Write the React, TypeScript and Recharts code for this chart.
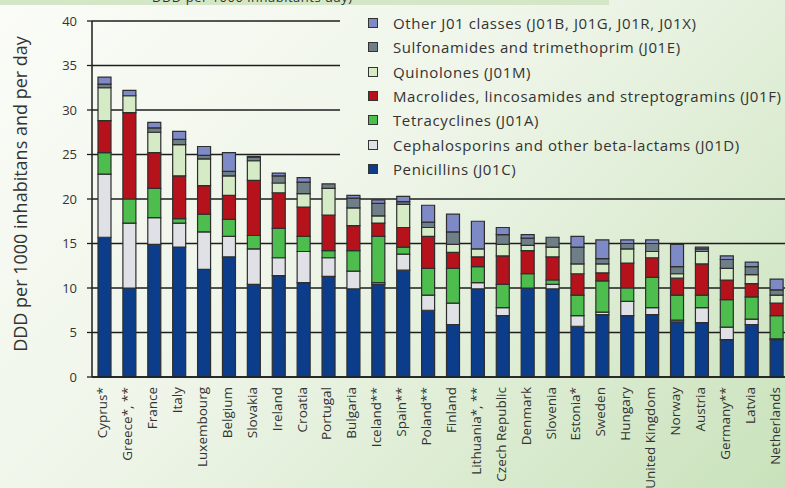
import React from 'react';
import { BarChart, Bar, XAxis, YAxis, CartesianGrid, Legend } from 'recharts';

const countries = [
  'Cyprus*', 'Greece*, **', 'France', 'Italy', 'Luxembourg', 'Belgium', 'Slovakia', 'Ireland',
  'Croatia', 'Portugal', 'Bulgaria', 'Iceland**', 'Spain**', 'Poland**', 'Finland', 'Lithuania*, **',
  'Czech Republic', 'Denmark', 'Slovenia', 'Estonia*', 'Sweden', 'Hungary', 'United Kingdom',
  'Norway', 'Austria', 'Germany**', 'Latvia', 'Netherlands',
];

const penicillins = [15.7, 10.0, 14.9, 14.6, 12.1, 13.5, 10.4, 11.4, 10.6, 11.3, 9.9, 10.4, 12.0, 7.5, 5.9, 9.9, 6.9, 10.0, 9.9, 5.7, 7.0, 6.9, 7.0, 6.2, 6.1, 4.2, 5.9, 4.2];
const cephalosporins = [7.1, 7.3, 3.0, 2.7, 4.2, 2.3, 4.0, 2.0, 3.5, 2.1, 2.0, 0.2, 1.8, 1.7, 2.4, 0.7, 0.9, 0, 0.5, 1.2, 0.3, 1.6, 0.8, 0.2, 1.7, 1.4, 0.6, 0.1];
const tetracyclines = [2.4, 2.7, 3.3, 0.5, 2.0, 1.9, 1.5, 3.3, 1.7, 0.8, 2.3, 5.2, 0.8, 3.0, 3.9, 1.8, 2.6, 1.6, 0.5, 2.3, 3.5, 1.5, 3.4, 2.8, 1.4, 3.1, 2.5, 2.6];
const macrolides = [3.6, 9.7, 4.0, 4.8, 3.2, 2.7, 6.2, 4.0, 3.3, 4.0, 2.8, 1.5, 2.2, 3.6, 1.8, 1.1, 3.2, 2.6, 2.6, 2.4, 0.9, 2.8, 2.2, 1.9, 3.5, 2.2, 1.5, 1.4];
const quinolones = [3.7, 1.9, 2.3, 3.5, 3.0, 2.2, 2.2, 1.1, 1.5, 3.0, 2.0, 0.8, 2.6, 1.0, 0.9, 0.9, 1.3, 0.6, 1.1, 1.1, 1.0, 1.6, 0.7, 0.5, 1.4, 1.3, 1.0, 0.9];
const sulfonamides = [0.4, 0, 0.5, 0.6, 0.4, 0.5, 0.4, 0.8, 1.3, 0.5, 1.1, 1.4, 0.3, 0.6, 1.4, 0, 1.1, 0.8, 1.1, 1.9, 0.6, 0.6, 0.9, 0.8, 0.3, 1.0, 0.9, 0.6];
const otherClasses = [0.8, 0.6, 0.6, 0.9, 1.0, 2.1, 0.1, 0.3, 0.5, 0, 0.3, 0.4, 0.6, 1.9, 2.0, 3.1, 0.8, 0.4, 0, 1.2, 2.1, 0.4, 0.4, 2.5, 0.2, 0.4, 0.5, 1.2];

const seriesKeys = ['pen', 'ceph', 'tet', 'mac', 'quin', 'sulf', 'other'];
const seriesNames = [
  'Penicillins (J01C)',
  'Cephalosporins and other beta-lactams (J01D)',
  'Tetracyclines (J01A)',
  'Macrolides, lincosamides and streptogramins (J01F)',
  'Quinolones (J01M)',
  'Sulfonamides and trimethoprim (J01E)',
  'Other J01 classes (J01B, J01G, J01R, J01X)',
];
const seriesColors = ['#0b3d8b', '#dfe1e6', '#4dbd4d', '#b5121b', '#d5ebc5', '#6f7f87', '#7e8ac6'];
const seriesValues = [penicillins, cephalosporins, tetracyclines, macrolides, quinolones, sulfonamides, otherClasses];

const yTicks = [0, 5, 10, 15, 20, 25, 30, 35, 40];
const edgeTicks = [...countries.map((_, i) => i), countries.length];
const yTitle = 'DDD per 1000 inhabitans and per day';
const topStripText = 'DDD per 1000 inhabitants day)';

const data = countries.map((c, i) => {
  const row: Record<string, any> = { country: c };
  seriesKeys.forEach((k, j) => {
    row[k] = seriesValues[j][i];
  });
  return row;
});

const FONT = '"Open Sans", "DejaVu Sans", sans-serif';
const BG = 'linear-gradient(135deg, #fbfcf8 0%, #eef5e8 45%, #c9e2bb 100%)';

const XTick = (props: any) => {
  const { x, y, payload } = props;
  return (
    <text
      x={x}
      y={y}
      dy={3}
      transform={`rotate(-90 ${x} ${y})`}
      textAnchor="end"
      fontSize={13.5}
      fill="#333"
      fontFamily={FONT}
    >
      {payload.value}
    </text>
  );
};

const LegendContent = () => {
  const order = [6, 5, 4, 3, 2, 1, 0];
  return (
    <div style={{ paddingLeft: 28, paddingTop: 3, fontFamily: FONT, fontSize: 15, letterSpacing: 0.6, color: '#333' }}>
      {order.map((i) => (
        <div key={i} style={{ display: 'flex', alignItems: 'center', height: 24.3, whiteSpace: 'nowrap' }}>
          <span
            style={{
              display: 'inline-block',
              width: 8,
              height: 8,
              border: '1px solid #333',
              background: seriesColors[i],
              marginRight: 15,
              flex: 'none',
            }}
          />
          <span>{seriesNames[i]}</span>
        </div>
      ))}
    </div>
  );
};

export default function App() {
  return (
    <div
      style={{
        position: 'absolute',
        left: 0,
        top: 0,
        width: 785,
        height: 488,
        overflow: 'hidden',
        background: BG,
        backgroundSize: '785px 488px',
        fontFamily: FONT,
      }}
    >
      <div
        style={{
          position: 'absolute',
          left: 0,
          top: 0,
          width: 609,
          height: 5,
          background: '#d3e7c7',
          overflow: 'hidden',
        }}
      >
        <span
          style={{
            position: 'absolute',
            left: 152,
            top: -9,
            fontSize: 13,
            lineHeight: '13px',
            color: '#333',
            whiteSpace: 'nowrap',
            letterSpacing: 0.5,
          }}
        >
          {topStripText}
        </span>
      </div>
      <div
        style={{
          position: 'absolute',
          left: 20,
          top: 194,
          transform: 'translate(-50%, -50%) rotate(-90deg)',
          whiteSpace: 'nowrap',
          fontSize: 18,
          color: '#333',
        }}
      >
        {yTitle}
      </div>
      <div style={{ position: 'absolute', left: 0, top: 0 }}>
        <BarChart
          width={800}
          height={488}
          data={data}
          margin={{ top: 21, right: 11, bottom: 0, left: 0 }}
          barSize={13}
        >
          <CartesianGrid xAxisId="cat" vertical={false} stroke="#1e1e1e" strokeWidth={1.3} />
          <XAxis
            xAxisId="edge"
            type="number"
            domain={[0, countries.length]}
            ticks={edgeTicks}
            tick={false}
            tickSize={4}
            axisLine={false}
            tickLine={{ stroke: '#222', strokeWidth: 1.2 }}
            height={0}
            allowDataOverflow
          />
          <XAxis
            xAxisId="cat"
            dataKey="country"
            interval={0}
            tick={<XTick />}
            tickLine={false}
            tickSize={0}
            tickMargin={10}
            axisLine={{ stroke: '#1e1e1e', strokeWidth: 1.5 }}
            height={111}
          />
          <YAxis
            width={92}
            domain={[0, 40]}
            ticks={yTicks}
            interval={0}
            tickSize={5}
            tickMargin={10}
            tick={{ fill: '#333', fontSize: 13, fontFamily: FONT }}
            axisLine={{ stroke: '#1e1e1e', strokeWidth: 1.5 }}
            tickLine={{ stroke: '#1e1e1e', strokeWidth: 1.3 }}
          />
          <Legend
            layout="vertical"
            align="center"
            verticalAlign="middle"
            content={<LegendContent />}
            wrapperStyle={{
              left: 340,
              top: 8,
              width: 445,
              height: 184,
              backgroundImage: BG,
              backgroundSize: '785px 488px',
              backgroundPosition: '-340px -8px',
            }}
          />
          {seriesKeys.map((k, j) => (
            <Bar
              key={k}
              xAxisId="cat"
              dataKey={k}
              name={seriesNames[j]}
              stackId="a"
              fill={seriesColors[j]}
              stroke="#2e2e2e"
              strokeWidth={1.2}
              isAnimationActive={false}
            />
          ))}
        </BarChart>
      </div>
    </div>
  );
}
